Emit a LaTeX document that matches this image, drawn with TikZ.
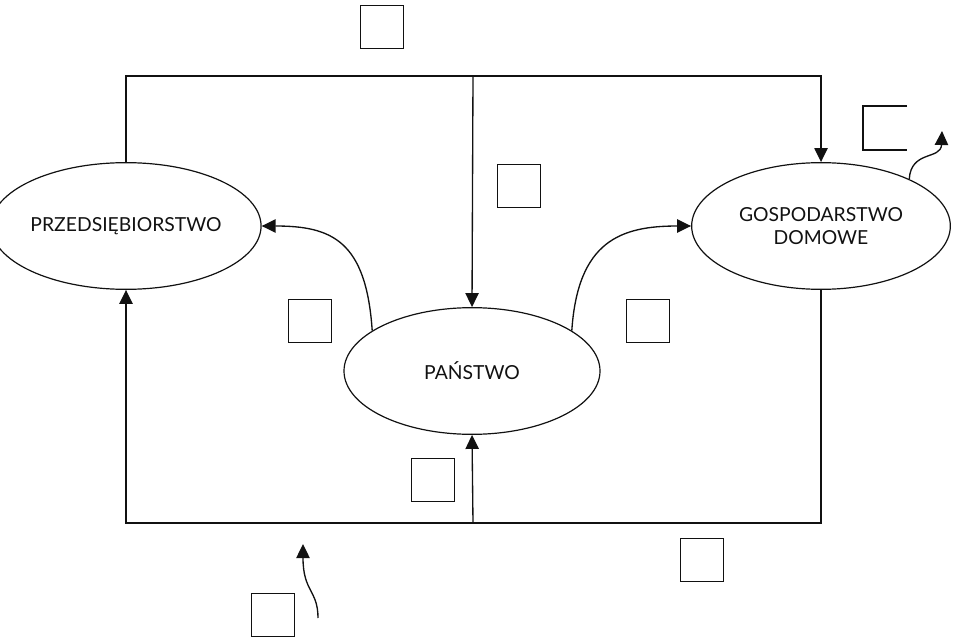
\documentclass[tikz,border=0pt]{standalone}
\usepackage{fontspec}
\setmainfont{Lato}
\setsansfont{Lato}
\usetikzlibrary{arrows.meta,shapes.geometric,calc}
\definecolor{ink}{HTML}{111111}
\tikzset{
  font=\sffamily\fontsize{14.5}{17}\selectfont,
  sector/.style={
    ellipse,
    draw=ink,
    line width=0.9pt,
    minimum width=192pt,
    minimum height=95pt,
    inner sep=0pt,
    align=center,
    text=ink
  },
  blank box/.style={
    draw=ink,
    line width=1.1pt,
    minimum width=32pt,
    minimum height=32pt,
    inner sep=0pt
  },
  flow/.style={
    draw=ink,
    line width=1pt
  },
  arrow/.style={
    flow,
    -{Triangle[length=10.5pt,width=10pt]}
  },
  wave/.style={
    flow,
    -{Triangle[length=10.5pt,width=10pt]}
  }
}

\begin{document}
\begin{tikzpicture}[x=0.75pt, y=-0.75pt]
\useasboundingbox (0,0) rectangle (956,638);

% ---------------------------------------------------------------------------
% 1. Sectors
% ---------------------------------------------------------------------------
\node[sector, minimum width=184pt] (firm) at (126,226) {PRZEDSIĘBIORSTWO};
\node[sector, minimum width=194pt] (household) at (821,226) {GOSPODARSTWO\\DOMOWE};
\node[sector] (state) at (472,371) {PAŃSTWO};

% ---------------------------------------------------------------------------
% 2. Upper and lower loops
% ---------------------------------------------------------------------------
\coordinate (topRail) at (473,76);
\coordinate (bottomRail) at (473,523);

\draw[arrow] (firm.north) |- (household.north |- topRail) -- (household.north);
\draw[arrow] (topRail) -- (state.north);

\draw[arrow] (household.south) |- (firm.south |- bottomRail) -- (firm.south);
\draw[arrow] (bottomRail) -- (state.south);

% Curved flows out of the state.
\draw[arrow] (state.158) .. controls +(-6,-90) and +(70,0) .. (firm.east);
\draw[arrow] (state.22) .. controls +(6,-90) and +(-70,0) .. (household.west);

% ---------------------------------------------------------------------------
% 3. Empty label boxes
% ---------------------------------------------------------------------------
\node[blank box] (boxTop) at (382,27) {};
\node[blank box] (boxMid) at (519,186) {};
\node[blank box] (boxLeft) at (310,321) {};
\node[blank box] (boxRight) at (648,321) {};
\node[blank box] (boxLow) at (433,480) {};
\node[blank box] (boxBottom) at (702,560) {};
\node[blank box] (boxCorner) at (273,615) {};
\node[blank box, draw=none] (boxOpen) at (885,128) {};
\draw[ink, line width=1.1pt] (boxOpen.north east) -- (boxOpen.north west)
  -- (boxOpen.south west) -- (boxOpen.south east);

% Small wavy pointers.
\coordinate (waveFoot) at (318,618);
\coordinate (waveTip) at (303,544);
\draw[wave] (waveFoot) .. controls (318,590) and (303,592) .. (waveTip);

\coordinate (outTip) at (942,131);
\draw[wave] (household.28) .. controls (911,150) and (941,160) .. (outTip);

\end{tikzpicture}
\end{document}
